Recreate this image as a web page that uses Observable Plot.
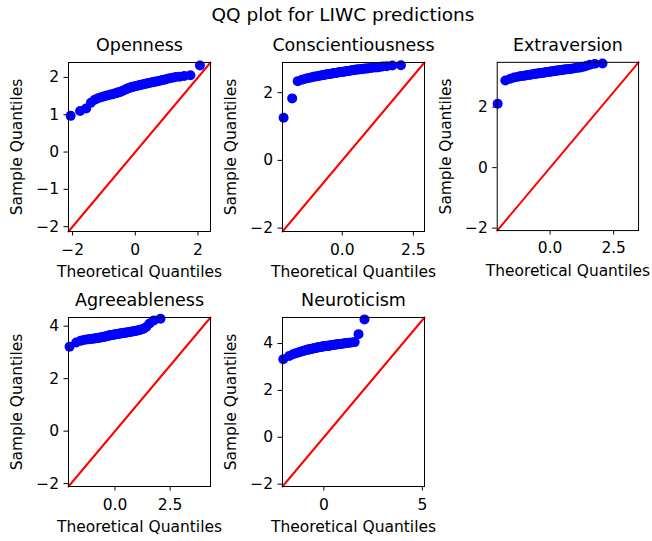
<!DOCTYPE html>
<html><head><meta charset="utf-8">
<script src="https://cdn.jsdelivr.net/npm/d3@7"></script>
<script src="https://cdn.jsdelivr.net/npm/@observablehq/plot@0.6"></script>
<style>
body{margin:0;background:#fff;}
#fig{position:relative;width:652px;height:541px;font-family:"DejaVu Sans";overflow:hidden;}
#suptitle{position:absolute;left:343px;top:6px;transform:translateX(-50%);font-size:18.5px;line-height:1;white-space:nowrap;color:#000;}
.panel{position:absolute;}
</style></head><body>
<div id="fig"><div id="suptitle">QQ plot for LIWC predictions</div></div>
<script>
// Theoretical normal quantiles (x values, shared by all panels)
const theoretical = [-2.062,-1.760,-1.565,-1.416,-1.293,-1.187,-1.093,-1.007,-0.929,-0.856,-0.787,-0.721,-0.659,-0.599,-0.541,-0.485,-0.431,-0.377,-0.325,-0.274,-0.223,-0.173,-0.123,-0.074,-0.025,
  0.025,0.074,0.123,0.173,0.223,0.274,0.325,0.377,0.431,0.485,0.541,0.599,0.659,0.721,0.787,0.856,0.929,1.007,1.093,1.187,1.293,1.416,1.565,1.760,2.062];

const opennessSample = [0.97,1.10,1.17,1.32,1.40,1.44,1.47,1.49,1.51,1.52,1.54,1.55,1.57,1.58,1.60,1.61,1.63,1.65,1.67,1.69,1.71,1.72,1.74,1.75,1.76,
  1.77,1.78,1.79,1.80,1.81,1.82,1.83,1.84,1.85,1.86,1.87,1.88,1.89,1.90,1.91,1.93,1.94,1.96,1.98,1.99,2.01,2.02,2.04,2.06,2.32];
const conscientiousnessSample = [1.26,1.83,2.34,2.38,2.41,2.43,2.45,2.47,2.48,2.49,2.50,2.51,2.52,2.53,2.54,2.55,2.55,2.56,2.57,2.58,2.58,2.59,2.60,2.61,2.61,
  2.62,2.62,2.63,2.64,2.64,2.65,2.66,2.66,2.67,2.68,2.68,2.69,2.69,2.70,2.71,2.71,2.72,2.73,2.74,2.74,2.75,2.77,2.78,2.80,2.81];
const extraversionSample = [2.11,2.88,2.94,2.98,3.00,3.02,3.03,3.04,3.05,3.06,3.07,3.08,3.09,3.10,3.10,3.11,3.12,3.12,3.13,3.14,3.14,3.15,3.16,3.16,3.17,
  3.18,3.18,3.19,3.19,3.20,3.21,3.21,3.22,3.22,3.23,3.24,3.24,3.25,3.26,3.26,3.27,3.28,3.29,3.30,3.31,3.33,3.36,3.40,3.43,3.44];
const agreeablenessSample = [3.22,3.38,3.44,3.47,3.49,3.50,3.51,3.52,3.53,3.54,3.55,3.56,3.57,3.58,3.59,3.60,3.61,3.62,3.63,3.64,3.65,3.66,3.66,3.67,3.68,
  3.69,3.69,3.70,3.71,3.72,3.72,3.73,3.74,3.75,3.75,3.76,3.77,3.78,3.79,3.80,3.81,3.82,3.83,3.85,3.87,3.90,3.97,4.10,4.22,4.28];
const neuroticismSample = [3.33,3.47,3.54,3.59,3.62,3.65,3.67,3.69,3.71,3.73,3.74,3.76,3.77,3.78,3.79,3.80,3.81,3.82,3.83,3.84,3.84,3.85,3.86,3.87,3.87,
  3.88,3.89,3.89,3.90,3.91,3.91,3.92,3.93,3.94,3.94,3.95,3.96,3.96,3.97,3.98,3.98,3.99,4.00,4.01,4.02,4.03,4.04,4.06,4.40,5.03];

const traits = ["Openness","Conscientiousness","Extraversion","Agreeableness","Neuroticism"];
const samples = [opennessSample, conscientiousnessSample, extraversionSample, agreeablenessSample, neuroticismSample];
// axis limits (shared by x and y, 45-degree reference line spans them)
const limits = [[-2.13,2.40],[-2.10,2.89],[-2.08,3.48],[-2.11,4.33],[-2.10,5.11]];
const xTicks = [[-2,0,2],[0,2.5],[0,2.5],[0,2.5],[0,5]];
const yTicks = [[-2,-1,0,1,2],[-2,0,2],[-2,0,2],[-2,0,2,4],[-2,0,2,4]];
const xTickFormats = ["d",".1f",".1f",".1f","d"];

// layout
const frameLeft = [68,282,497,68,282];
const frameTop = [62,62,62,317,317];
const fw = 142, fh = 169, mL = 62, mR = 14, mT = 34, mB = 54;

const fig = document.getElementById("fig");
traits.forEach((name, i) => {
  const data = theoretical.map((t, j) => ({t, s: samples[i][j]}));
  const lim = limits[i];
  const plot = Plot.plot({
    width: mL + fw + mR, height: mT + fh + mB,
    marginLeft: mL, marginRight: mR, marginTop: mT, marginBottom: mB,
    style: {fontFamily: "DejaVu Sans", fontSize: "15.5px", overflow: "visible", background: "transparent", color: "#000"},
    x: {domain: lim, inset: 0},
    y: {domain: lim, inset: 0},
    marks: [
      Plot.axisX({ticks: xTicks[i], tickFormat: d3.format(xTickFormats[i]), tickSize: 4.5, tickPadding: 7.5, label: null, fontSize: 15.5}),
      Plot.axisY({ticks: yTicks[i], tickFormat: d3.format("d"), tickSize: 4.5, tickPadding: 5, label: null, fontSize: 15.5}),
      Plot.dot(data, {x: "t", y: "s", r: 5, fill: "#0000ff", stroke: null}),
      Plot.line(lim.map(v => ({v})), {x: "v", y: "v", stroke: "#ff0000", strokeWidth: 2}),
      Plot.frame({stroke: "#000", strokeWidth: 1}),
      Plot.text([name], {frameAnchor: "top", dy: -17, text: d => d, fontSize: 17.5, textAnchor: "middle", lineAnchor: "middle"}),
      Plot.text(["Theoretical Quantiles"], {frameAnchor: "bottom", dy: 40.5, text: d => d, fontSize: 15.5, textAnchor: "middle", lineAnchor: "middle"}),
      Plot.text(["Sample Quantiles"], {frameAnchor: "left", dx: -51, rotate: -90, text: d => d, fontSize: 15.5, textAnchor: "middle", lineAnchor: "middle"})
    ]
  });
  const div = document.createElement("div");
  div.className = "panel";
  div.style.left = (frameLeft[i] - mL) + "px";
  div.style.top = (frameTop[i] - mT) + "px";
  div.appendChild(plot);
  fig.appendChild(div);
});
</script>
</body></html>
